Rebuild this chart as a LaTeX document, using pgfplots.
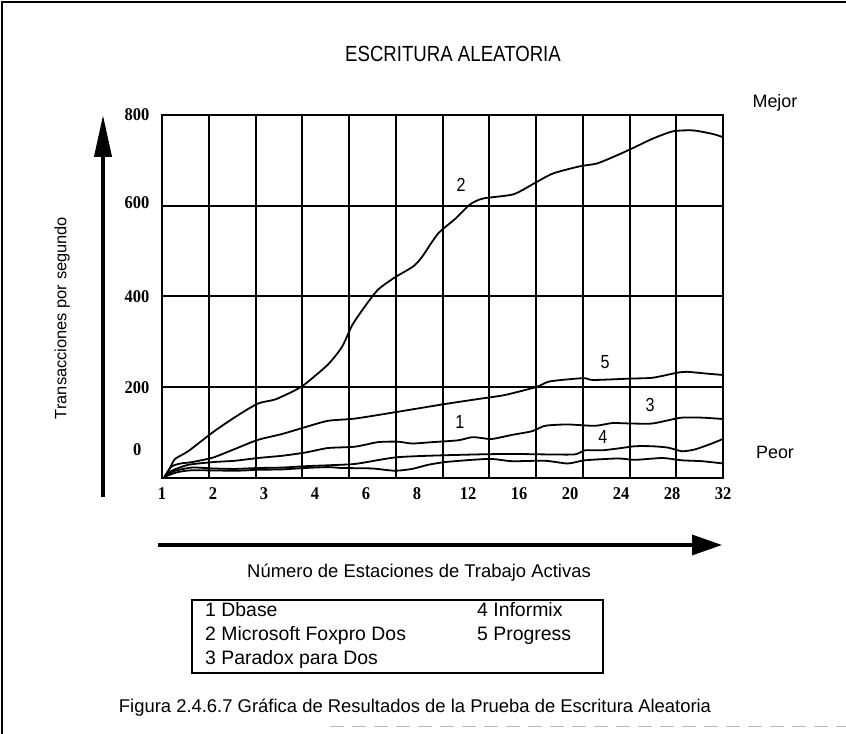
\documentclass[border=0pt]{standalone}
\usepackage{fontspec}
\setmainfont{Liberation Sans}
\newfontfamily\tickfont[FakeStretch=0.92]{Liberation Serif}
\newfontfamily\narrowfont[FakeStretch=0.85]{Liberation Sans}
\usepackage{pgfplots}
\pgfplotsset{compat=1.18}
\usetikzlibrary{arrows.meta}
\pgfplotsset{curva/.style={black, line width=1.8bp, smooth, tension=0.4, no marks}}

\begin{document}
\begin{tikzpicture}[x=1bp,y=1bp]
\useasboundingbox (0,0) rectangle (846,734);
% marco de la figura
\draw[line width=1.5bp] (2,0) -- (2,732) -- (846,732);
\draw[gray!55, line width=1bp, dash pattern=on 14bp off 8bp] (330,7) -- (846,7);
\node[font=\narrowfont\fontsize{22}{22}\selectfont] at (453,680) {ESCRITURA ALEATORIA};

\begin{axis}[at={(162bp,256bp)}, anchor=south west, scale only axis,
  width=561bp, height=363bp,
  xmin=0, xmax=12, ymin=0, ymax=800,
  xtick={0,1.0909,2.1818,3.2727,4.3636,5.4545,6.5455,7.6364,8.7273,9.8182,10.9091,12},
  xticklabels={1,2,3,4,6,8,12,16,20,24,28,32},
  ytick={200,400,600,800},
  yticklabels={200,400,\raisebox{7bp}{600},\raisebox{-8bp}{800}},
  ymajorgrids, major grid style={black, line width=2bp},
  extra x ticks={1,2,3,4,5,6,7,8,9,10,11},
  extra x tick style={grid=major, xticklabel={}},
  extra y ticks={62}, extra y tick labels={0},
  extra y tick style={grid=none, yticklabel style={xshift=-8bp}},
  major tick length=0pt,
  axis line style={line width=2bp},
  tick label style={font=\tickfont\bfseries\fontsize{18}{18}\selectfont},
  yticklabel style={xshift=-9bp}, xticklabel style={yshift=-6bp}]

% 2 Microsoft Foxpro Dos
\addplot[curva] coordinates {(0.05,2) (0.17,22) (0.28,42) (0.56,59) (1.09,101) (1.56,134) (2.05,164)
  (2.42,173) (2.84,193) (3.06,207) (3.55,250) (3.85,289) (4.07,337) (4.34,378) (4.62,415)
  (4.98,442) (5.37,466) (5.56,487) (5.90,538) (6.27,571) (6.59,603) (6.87,616) (7.51,625)
  (7.94,648) (8.36,671) (8.94,687) (9.30,693) (9.73,711) (10.07,727) (10.50,748) (10.93,764)
  (11.36,766) (11.79,758) (12.00,751)};
% 5 Progress
\addplot[curva] coordinates {(0.05,2) (0.2,25) (0.4,32) (0.64,35) (1.09,45) (1.56,64) (2.05,84)
  (2.57,97) (3.06,112) (3.55,126) (4.13,131) (5.05,146) (6.05,163) (6.76,174) (7.34,183)
  (8.02,201) (8.30,213) (9.01,220) (9.22,216) (10.01,219) (10.50,221) (11.02,232) (11.23,234)
  (11.66,230) (12.00,227)};
% 1 Dbase / 3 Paradox
\addplot[curva] coordinates {(0.05,2) (0.21,16) (0.56,29) (1.09,35) (1.56,38) (2.05,44) (2.57,49)
  (3.06,56) (3.55,66) (4.13,69) (4.62,79) (5.05,80) (5.35,76) (5.78,79) (6.33,83) (6.63,90)
  (6.84,88) (7.06,86) (7.49,95) (7.91,103) (8.13,113) (8.26,116) (8.68,118) (9.26,115)
  (9.63,121) (10.05,120) (10.48,120) (10.82,127) (11.12,133) (11.55,133) (12.00,130)};
% 4 Informix
\addplot[curva] coordinates {(0.05,2) (0.25,15) (0.64,23) (1.09,21) (1.56,20) (2.05,22) (2.57,23)
  (3.06,26) (3.55,28) (4.13,31) (4.71,41) (5.05,46) (5.69,49) (6.76,52) (7.49,53) (8.19,52)
  (8.83,52) (9.05,61) (9.41,61) (9.75,65) (10.12,70) (10.48,70) (10.82,67) (11.12,59)
  (11.40,63) (11.76,76) (12.00,86)};
% curva inferior
\addplot[curva] coordinates {(0.05,2) (0.3,12) (0.64,17) (1.56,16) (2.05,18) (2.57,19) (3.06,22)
  (3.55,24) (3.85,22) (4.49,21) (4.98,16) (5.35,20) (5.69,29) (6.05,35) (6.63,40) (7.06,42)
  (7.49,37) (8.19,38) (8.68,32) (9.05,39) (9.75,43) (10.12,40) (10.70,44) (11.12,39)
  (11.55,37) (12.00,32)};

\begin{scope}[every node/.style={font=\narrowfont\fontsize{19}{19}\selectfont}]
\node at (axis cs:6.40,645) {2};
\node at (axis cs:9.48,255) {5};
\node at (axis cs:10.44,160) {3};
\node at (axis cs:9.43,91) {4};
\node at (axis cs:6.37,123) {1};
\end{scope}
\end{axis}

\node[font=\fontsize{18}{18}\selectfont] at (775,631) {Mejor};
\node[font=\fontsize{18}{18}\selectfont] at (775,282) {Peor};
\node[rotate=90, font=\fontsize{16.5}{16.5}\selectfont] at (62,416) {Transacciones por segundo};
\draw[line width=4bp, -{Triangle[length=42bp,width=17bp]}] (103,237) -- (103,619);
\draw[line width=3.5bp, -{Triangle[length=30bp,width=20bp]}] (158,189) -- (722,189);
\node[font=\fontsize{18.5}{18.5}\selectfont] at (419,161) {Número de Estaciones de Trabajo Activas};

\draw[line width=1.8bp] (192,134) rectangle (603,61);
\begin{scope}[every node/.style={anchor=base west, inner sep=0pt, font=\fontsize{19.5}{19.5}\selectfont}]
\node at (205,117) {1 Dbase};
\node at (205,93) {2 Microsoft Foxpro Dos};
\node at (205,69) {3 Paradox para Dos};
\node at (477,117) {4 Informix};
\node at (477,93) {5 Progress};
\end{scope}
\node[font=\fontsize{18.5}{18.5}\selectfont] at (415,26) {Figura 2.4.6.7 Gráfica de Resultados de la Prueba de Escritura Aleatoria};
\end{tikzpicture}
\end{document}
